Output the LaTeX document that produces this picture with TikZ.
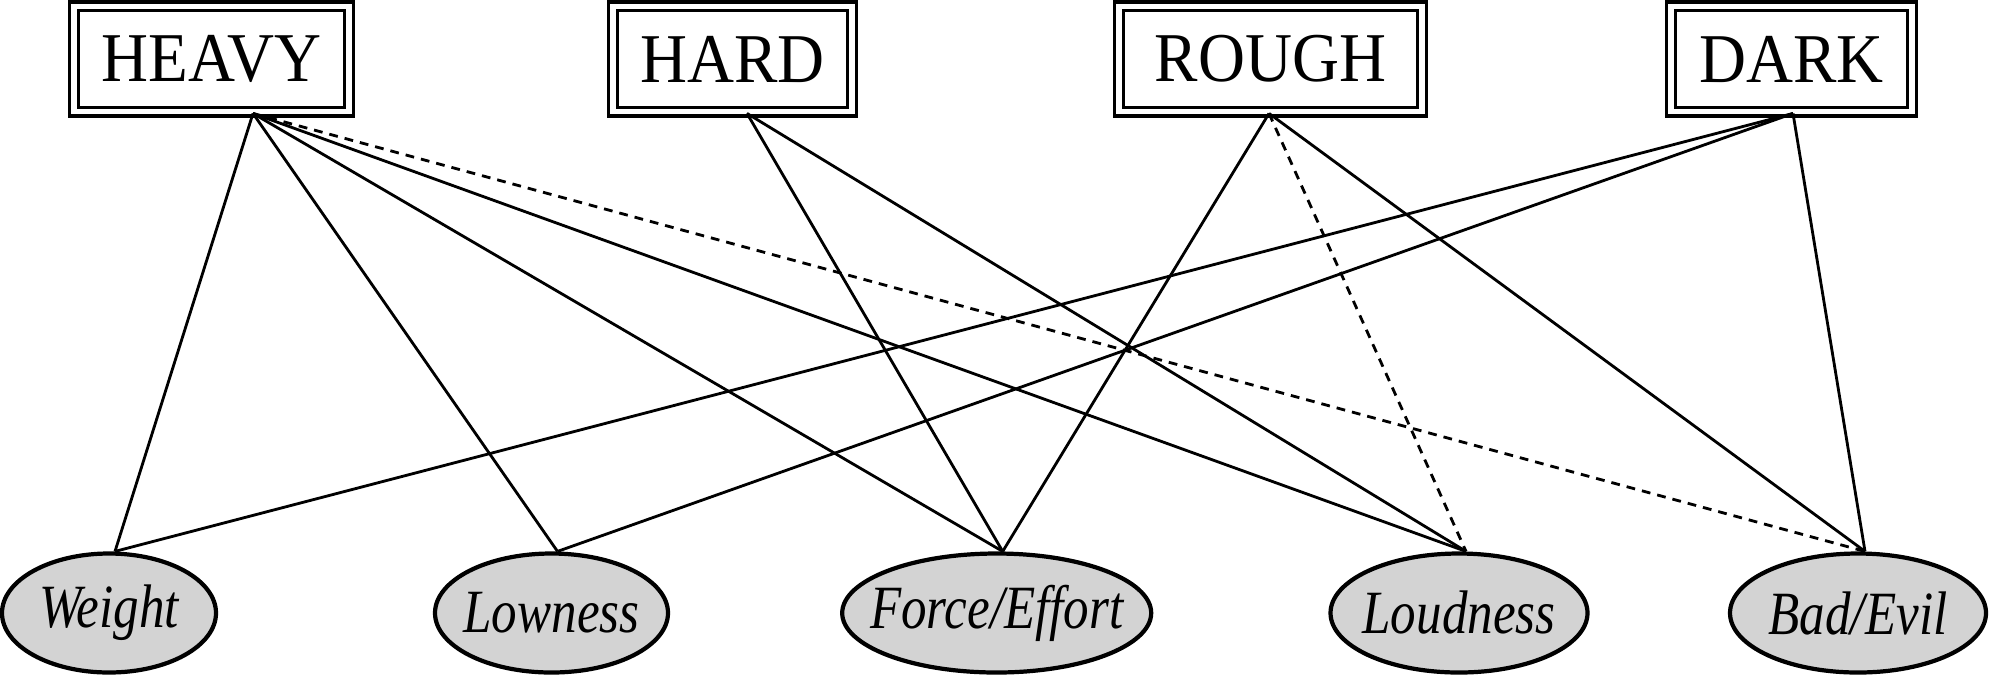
\documentclass[tikz,border=0pt]{standalone}
\usepackage{fontspec}
\setmainfont{Liberation Serif}
\newfontfamily\wordfont[FakeStretch=0.93]{Liberation Serif}
\newfontfamily\sensefont[FakeStretch=0.83]{Liberation Serif}
\usepackage{tikz}
\usetikzlibrary{shapes.geometric, positioning, calc}
\definecolor{sensegray}{RGB}{211,211,211}

\begin{document}
\begin{tikzpicture}[
    wordbox/.style={rectangle, draw, double, line width=0.95pt, double distance=1.45pt, minimum height=1.055cm, inner sep=0pt, font=\wordfont\fontsize{19.9}{22}\selectfont},
    sensebox/.style={ellipse, draw, line width=1.2pt, fill=sensegray, minimum height=1.19cm, inner xsep=-0.4cm, inner ysep=0pt, font=\sensefont\itshape\fontsize{17.5}{20}\selectfont},
    link/.style={line width=0.8pt},
    weaklink/.style={link, dash pattern=on 2.5pt off 2pt}
]
\useasboundingbox (0,0) rectangle (19.89,6.74);

% ════════════════════════════════════════
% TOP ROW: ADJECTIVES
% ════════════════════════════════════════
\node[wordbox, minimum width=2.75cm] (heavy) at (2.115, 6.15) {HEAVY};
\node[wordbox, minimum width=2.39cm] (hard)  at (7.325, 6.15) {HARD};
\node[wordbox, minimum width=3.03cm] (rough) at (12.705, 6.15) {ROUGH};
\node[wordbox, minimum width=2.41cm] (dark)  at (17.915, 6.15) {DARK};

% ════════════════════════════════════════
% BOTTOM ROW: SENSES
% ════════════════════════════════════════
\node[sensebox, minimum width=2.14cm] (weight)   at (1.09, 0.61) {Weight};
\node[sensebox, minimum width=2.33cm] (lowness)  at (5.515, 0.61) {Lowness};
\node[sensebox, minimum width=3.09cm] (force)    at (9.967, 0.61) {Force/Effort};
\node[sensebox, minimum width=2.57cm] (loudness) at (14.59, 0.61) {Loudness};
\node[sensebox, minimum width=2.56cm] (evil)     at (18.58, 0.61) {Bad/Evil};

% ── Ports ──
\coordinate (heavyout) at ([xshift=4.15mm]heavy.south);
\coordinate (hardout)  at ([xshift=1.45mm]hard.south);
\coordinate (roughout) at ([xshift=-0.15mm]rough.south);
\coordinate (darkout)  at ([xshift=0.15mm]dark.south);
\coordinate (weightin)   at ([xshift=0.6mm]weight.north);
\coordinate (lownessin)  at ([xshift=0.6mm]lowness.north);
\coordinate (forcein)    at ([xshift=0.6mm]force.north);
\coordinate (loudnessin) at ([xshift=0.7mm]loudness.north);
\coordinate (evilin)     at ([xshift=0.7mm]evil.north);

% ── Links ──
\draw[link] (heavyout) -- (weightin);
\draw[link] (heavyout) -- (lownessin);
\draw[link] (heavyout) -- (forcein);
\draw[link] (heavyout) -- (loudnessin);
\draw[weaklink] (heavyout) -- (evilin);

\draw[link] (hardout) -- (forcein);
\draw[link] (hardout) -- (loudnessin);

\draw[link] (roughout) -- (forcein);
\draw[weaklink] (roughout) -- (loudnessin);
\draw[link] (roughout) -- (evilin);

\draw[link] (darkout) -- (weightin);
\draw[link] (darkout) -- (lownessin);
\draw[link] (darkout) -- (evilin);

\end{tikzpicture}
\end{document}
